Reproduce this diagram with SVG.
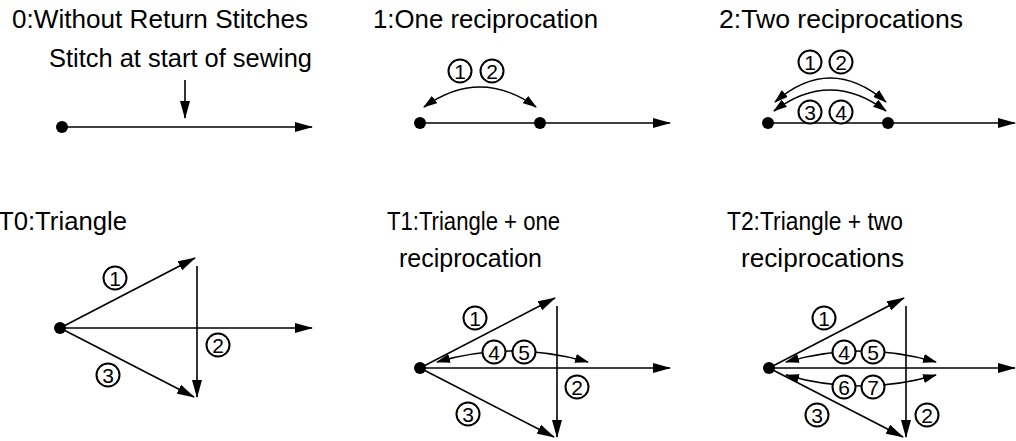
<svg xmlns="http://www.w3.org/2000/svg" width="1016" height="441" viewBox="0 0 1016 441">
<style>
.t{font-family:"Liberation Sans",Arial,sans-serif;font-size:25px;fill:#000}
.n circle{fill:#fff;stroke:#000;stroke-width:2}
.n text{font-family:"Liberation Sans",Arial,sans-serif;font-size:21px;fill:#000;text-anchor:middle}
.dot{fill:#000}
.c line,.c path{stroke:#000;stroke-width:1.6;fill:none}
.a{marker-end:url(#ah)}
.d{marker-start:url(#as);marker-end:url(#as)}
</style>
<defs>
<marker id="ah" markerUnits="userSpaceOnUse" viewBox="0 0 18 10" refX="17" refY="5" markerWidth="18" markerHeight="10" orient="auto"><path d="M0,0 L18,5 L0,10 z" fill="#000"/></marker>
<marker id="as" markerUnits="userSpaceOnUse" viewBox="0 0 14 9" refX="13" refY="4.5" markerWidth="14" markerHeight="9" orient="auto-start-reverse"><path d="M0,0 L14,4.5 L0,9 z" fill="#000"/></marker>
</defs>
<rect width="1016" height="441" fill="#fff"/>

<g id="connectors" class="c">
<line class="a" x1="62" y1="127" x2="312" y2="127"/>
<line class="a" x1="185" y1="80" x2="185" y2="118"/>

<line class="a" x1="420" y1="123" x2="670" y2="123"/>
<path class="d" d="M424,107 Q480,67 536,107"/>

<line class="a" x1="768" y1="123" x2="1015" y2="123"/>
<path class="d" d="M775,102 Q830,54 886,102"/>
<path class="d" d="M774,111 Q830,69 886,111"/>

<line class="a" x1="60" y1="328" x2="312" y2="328"/>
<line class="a" x1="60" y1="328" x2="195" y2="258"/>
<line class="a" x1="197" y1="266" x2="197" y2="397"/>
<line class="a" x1="60" y1="328" x2="194" y2="397"/>

<line class="a" x1="420" y1="368" x2="670" y2="368"/>
<line class="a" x1="420" y1="368" x2="555" y2="298"/>
<line class="a" x1="557" y1="306" x2="557" y2="437"/>
<line class="a" x1="420" y1="368" x2="554" y2="437"/>
<path class="d" d="M437,362 Q512,340 588,362"/>

<line class="a" x1="769" y1="368" x2="1015" y2="368"/>
<line class="a" x1="769" y1="368" x2="904" y2="298"/>
<line class="a" x1="906" y1="306" x2="906" y2="437"/>
<line class="a" x1="769" y1="368" x2="903" y2="437"/>
<path class="d" d="M786,362 Q861,340 936,362"/>
<path class="d" d="M786,375 Q861,397 936,375"/>
</g>

<g id="p0">
<text class="t" x="12" y="28" textLength="296" lengthAdjust="spacingAndGlyphs">0:Without Return Stitches</text>
<text class="t" x="49" y="67" textLength="263" lengthAdjust="spacingAndGlyphs">Stitch at start of sewing</text>
<circle class="dot" cx="62" cy="127" r="6"/>
</g>

<g id="p1">
<text class="t" x="373" y="28" textLength="225" lengthAdjust="spacingAndGlyphs">1:One reciprocation</text>
<circle class="dot" cx="420" cy="123" r="6"/>
<circle class="dot" cx="540" cy="123" r="6"/>
<g class="n"><circle cx="460" cy="71" r="11.5"/><text x="460" y="78.5">1</text></g>
<g class="n"><circle cx="492" cy="71" r="11.5"/><text x="492" y="78.5">2</text></g>
</g>

<g id="p2">
<text class="t" x="719" y="28" textLength="244" lengthAdjust="spacingAndGlyphs">2:Two reciprocations</text>
<circle class="dot" cx="768" cy="123" r="6"/>
<circle class="dot" cx="888" cy="123" r="6"/>
<g class="n"><circle cx="810" cy="62" r="11.5"/><text x="810" y="69.5">1</text></g>
<g class="n"><circle cx="841" cy="62" r="11.5"/><text x="841" y="69.5">2</text></g>
<g class="n"><circle cx="810" cy="112" r="11.5"/><text x="810" y="119.5">3</text></g>
<g class="n"><circle cx="841" cy="112" r="11.5"/><text x="841" y="119.5">4</text></g>
</g>

<g id="pT0">
<text class="t" x="-2" y="230" textLength="129" lengthAdjust="spacingAndGlyphs">T0:Triangle</text>
<circle class="dot" cx="60" cy="328" r="6"/>
<g class="n"><circle cx="115" cy="278" r="11.5"/><text x="115" y="285.5">1</text></g>
<g class="n"><circle cx="218" cy="345" r="11.5"/><text x="218" y="352.5">2</text></g>
<g class="n"><circle cx="108" cy="375" r="11.5"/><text x="108" y="382.5">3</text></g>
</g>

<g id="pT1">
<text class="t" x="387" y="230" textLength="173" lengthAdjust="spacingAndGlyphs">T1:Triangle + one</text>
<text class="t" x="399" y="267" textLength="143" lengthAdjust="spacingAndGlyphs">reciprocation</text>
<circle class="dot" cx="420" cy="368" r="6"/>
<g class="n"><circle cx="475" cy="318" r="11.5"/><text x="475" y="325.5">1</text></g>
<g class="n"><circle cx="577" cy="387" r="11.5"/><text x="577" y="394.5">2</text></g>
<g class="n"><circle cx="468" cy="414" r="11.5"/><text x="468" y="421.5">3</text></g>
<g class="n"><circle cx="494" cy="352" r="11.5"/><text x="494" y="359.5">4</text></g>
<g class="n"><circle cx="524" cy="352" r="11.5"/><text x="524" y="359.5">5</text></g>
</g>

<g id="pT2">
<text class="t" x="727" y="230" textLength="176" lengthAdjust="spacingAndGlyphs">T2:Triangle + two</text>
<text class="t" x="741" y="267" textLength="163" lengthAdjust="spacingAndGlyphs">reciprocations</text>
<circle class="dot" cx="769" cy="368" r="6"/>
<g class="n"><circle cx="824" cy="318" r="11.5"/><text x="824" y="325.5">1</text></g>
<g class="n"><circle cx="927" cy="415" r="11.5"/><text x="927" y="422.5">2</text></g>
<g class="n"><circle cx="817" cy="415" r="11.5"/><text x="817" y="422.5">3</text></g>
<g class="n"><circle cx="844" cy="352" r="11.5"/><text x="844" y="359.5">4</text></g>
<g class="n"><circle cx="873" cy="352" r="11.5"/><text x="873" y="359.5">5</text></g>
<g class="n"><circle cx="844" cy="387" r="11.5"/><text x="844" y="394.5">6</text></g>
<g class="n"><circle cx="873" cy="387" r="11.5"/><text x="873" y="394.5">7</text></g>
</g>
</svg>
